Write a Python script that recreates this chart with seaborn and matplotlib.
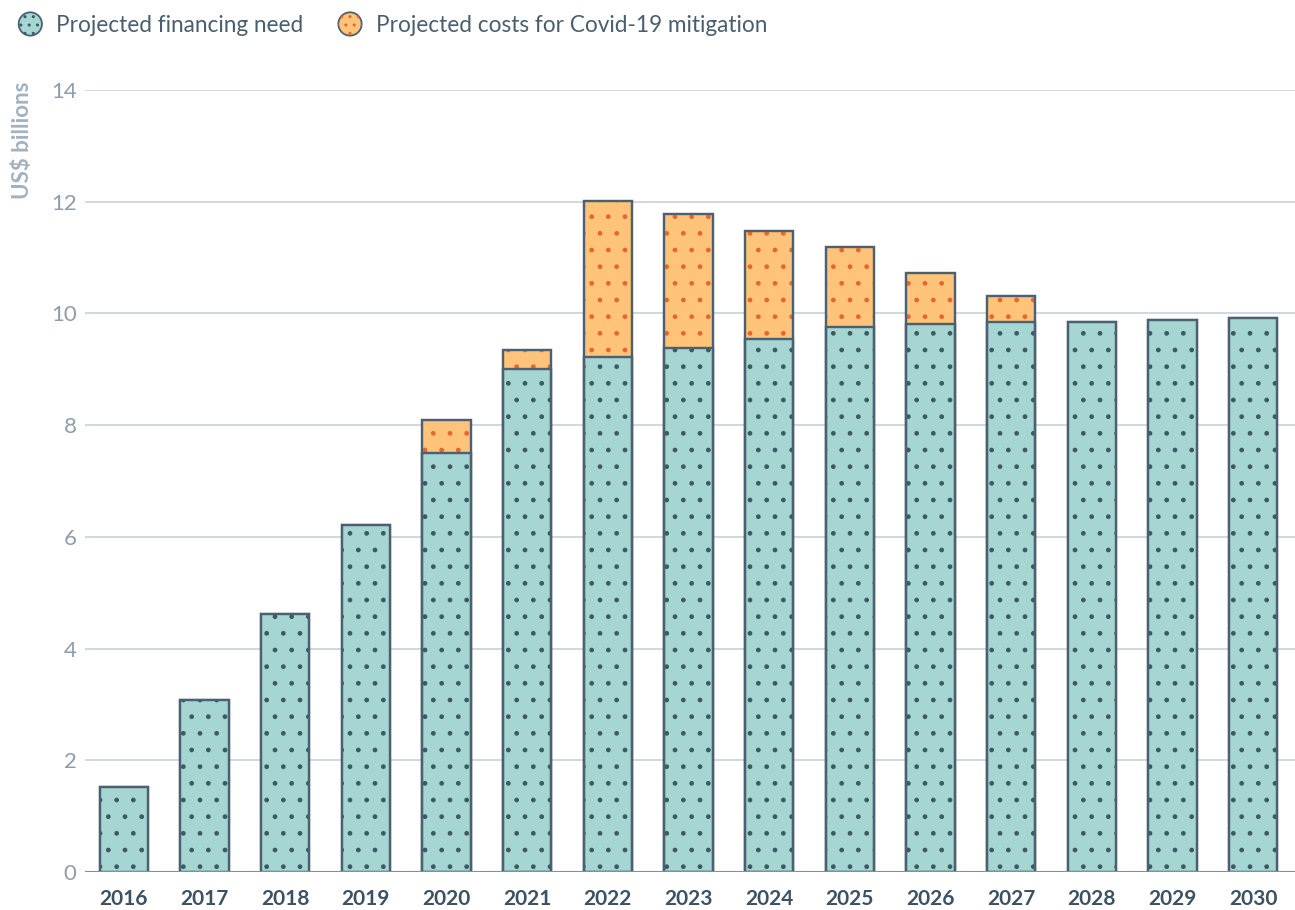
import matplotlib
matplotlib.use("Agg")
import matplotlib.pyplot as plt
import matplotlib.patches as mpatches
from matplotlib.legend_handler import HandlerPatch
import seaborn as sns
import pandas as pd

years = ["2016", "2017", "2018", "2019", "2020", "2021", "2022", "2023",
         "2024", "2025", "2026", "2027", "2028", "2029", "2030"]
financing_need = [1.52, 3.08, 4.62, 6.21, 7.50, 9.00, 9.22, 9.38,
                  9.54, 9.76, 9.81, 9.85, 9.85, 9.88, 9.92]
covid_costs = [0, 0, 0, 0, 0.59, 0.34, 2.79, 2.40,
               1.94, 1.43, 0.91, 0.46, 0, 0, 0]
yticks = [0, 2, 4, 6, 8, 10, 12, 14]

TEAL = "#a6d6d2"
TEAL_DOT = "#3d5866"
ORANGE = "#ffc47a"
ORANGE_DOT = "#e8662c"
EDGE = "#4b6070"
GRID = "#cdd5dd"

sns.set_theme(style="white")
plt.rcParams["font.family"] = ["Lato", "DejaVu Sans"]
plt.rcParams["hatch.linewidth"] = 1.0

df = pd.DataFrame({"year": years, "need": financing_need, "covid": covid_costs})
df["total"] = df["need"] + df["covid"]

fig = plt.figure(figsize=(12.95, 9.1), dpi=100)
ax = fig.add_axes([85 / 1295, 38 / 910, 1 - 85 / 1295, (872 - 90) / 910])

W = 0.6
sns.barplot(data=df, x="year", y="total", order=years, ax=ax, errorbar=None,
            width=W, facecolor=ORANGE, edgecolor=EDGE, linewidth=1.6, zorder=2)
sns.barplot(data=df, x="year", y="total", order=years, ax=ax, errorbar=None,
            width=W, facecolor="none", edgecolor=ORANGE_DOT, linewidth=0,
            hatch=".", zorder=3)
sns.barplot(data=df, x="year", y="need", order=years, ax=ax, errorbar=None,
            width=W, facecolor=TEAL, edgecolor=EDGE, linewidth=1.6, zorder=4)
sns.barplot(data=df, x="year", y="need", order=years, ax=ax, errorbar=None,
            width=W, facecolor="none", edgecolor=TEAL_DOT, linewidth=0,
            hatch=".", zorder=5)
sns.barplot(data=df[df["covid"] > 0], x="year", y="total", order=years, ax=ax,
            errorbar=None, width=W, facecolor="none", edgecolor=EDGE,
            linewidth=1.6, zorder=6)
sns.barplot(data=df, x="year", y="need", order=years, ax=ax, errorbar=None,
            width=W, facecolor="none", edgecolor=EDGE, linewidth=1.6, zorder=6)

ax.set_xlim(-0.48, 14.52)
ax.set_ylim(0, 14)
ax.set_yticks(yticks)
ax.set_yticklabels([str(t) for t in yticks])
for s in ax.spines.values():
    s.set_visible(False)
ax.grid(axis="y", color=GRID, linewidth=1.3, zorder=0)
ax.set_axisbelow(True)
ax.axhline(0, color="#7f909e", linewidth=1.5, zorder=7)
ax.tick_params(axis="both", length=0)
ax.tick_params(axis="y", pad=6, labelsize=16, labelcolor="#8d9dab")
ax.tick_params(axis="x", pad=12, labelsize=15, labelcolor="#3c5263")
for lbl in ax.get_xticklabels():
    lbl.set_fontweight("bold")
ax.set_xlabel("")
ax.set_ylabel("")

fig.text(23 / 1295, 1 - 140 / 910, "US$ billions", rotation=90, ha="center",
         va="center", fontsize=16, fontweight="bold", color="#a3b2c0")


class HandlerDotCircle(HandlerPatch):
    def create_artists(self, legend, orig_handle, xdescent, ydescent, width,
                       height, fontsize, trans):
        d = height * 1.15
        c = (0.5 * width - xdescent, 0.5 * height - ydescent)
        p1 = mpatches.Ellipse(c, d, d, facecolor=orig_handle.get_facecolor(),
                              edgecolor=EDGE, linewidth=1.3, transform=trans)
        p2 = mpatches.Ellipse(c, d, d, facecolor="none",
                              edgecolor=orig_handle.get_edgecolor(),
                              linewidth=0, hatch="..", transform=trans)
        return [p1, p2]


h1 = mpatches.Patch(facecolor=TEAL, edgecolor=TEAL_DOT)
h2 = mpatches.Patch(facecolor=ORANGE, edgecolor=ORANGE_DOT)
leg = fig.legend([h1, h2], ["Projected financing need",
                            "Projected costs for Covid-19 mitigation"],
                 handler_map={mpatches.Patch: HandlerDotCircle()},
                 loc="upper left", bbox_to_anchor=(2 / 1295, 1 + 2 / 910),
                 ncol=2, frameon=False, fontsize=16.3, handlelength=1.1,
                 handleheight=1.0, handletextpad=0.6, columnspacing=1.5,
                 borderaxespad=0.3)
for t in leg.get_texts():
    t.set_color("#4a5f6e")

fig.savefig("out.png", dpi=100)
